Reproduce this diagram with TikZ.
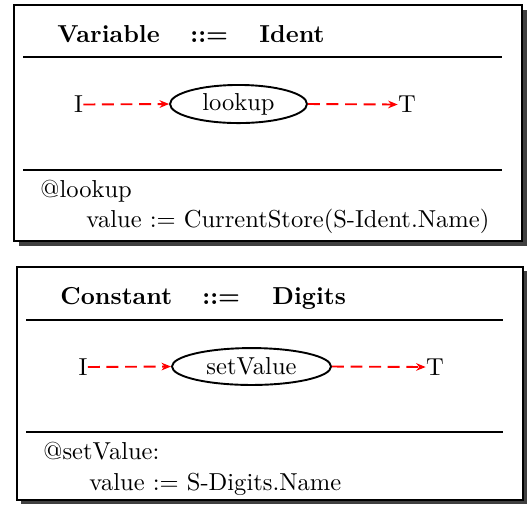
\documentclass[tikz,border=0pt]{standalone}
\usetikzlibrary{shapes.geometric,arrows.meta}
\begin{document}
\begin{tikzpicture}[x=0.42pt,y=-0.42pt,
  every node/.append style={font=\fontsize{10.3pt}{12pt}\selectfont},
  panel/.style={draw=black,line width=0.8pt,fill=white},
  shade/.style={fill=black!75,draw=none},
  rule/.style={line width=0.75pt},
  lbl/.style={inner sep=0pt,anchor=base west},
  term/.style={inner sep=0pt},
  act/.style={ellipse,draw,line width=0.8pt,inner sep=0pt},
  flow/.style={red,line width=0.8pt,dash pattern=on 5pt off 2.8pt,
    -{Stealth[length=4pt,width=3.2pt]}}]
\useasboundingbox (0,0) rectangle (527,506);

% ---- production: Variable ::= Ident ----
\fill[shade] (19,10) rectangle (527,246);
\draw[panel] (14,5) rectangle (522,241);
\node[lbl] (v1) at (57,42) {\textbf{Variable}};
\node[lbl] (v2) at (190,42) {\textbf{::=}};
\node[lbl] (v3) at (259,42) {\textbf{Ident}};
\draw[rule] (23,57) -- (502,57);
\draw[rule] (23,170) -- (502,170);
\node[term] (vi) at (78.5,104.5) {I};
\node[act,minimum width=57.5pt,minimum height=16pt] (look) at (238.5,104) {lookup};
\node[term] (vt) at (407,104.5) {T};
\draw[flow] (vi.east) -- (look.west);
\draw[flow] (look.east) -- (vt.west);
\node[lbl] (va) at (40,197) {@lookup};
\node[lbl] (vb) at (86,227) {value := CurrentStore(S-Ident.Name)};

% ---- production: Constant ::= Digits ----
\fill[shade] (21,271) rectangle (527,504);
\draw[panel] (17,267) rectangle (523,500);
\node[lbl] (c1) at (60,304) {\textbf{Constant}};
\node[lbl] (c2) at (202,304) {\textbf{::=}};
\node[lbl] (c3) at (272,304) {\textbf{Digits}};
\draw[rule] (26,320) -- (503,320);
\draw[rule] (26,432) -- (503,432);
\node[term] (ci) at (83,367) {I};
\node[act,minimum width=66.8pt,minimum height=15.5pt] (setv) at (251.5,366.5) {setValue};
\node[term] (ct) at (435,367) {T};
\draw[flow] (ci.east) -- (setv.west);
\draw[flow] (setv.east) -- (ct.west);
\node[lbl] (ca) at (43,459) {@setValue:};
\node[lbl] (cb) at (89,490) {value := S-Digits.Name};
\end{tikzpicture}
\end{document}
